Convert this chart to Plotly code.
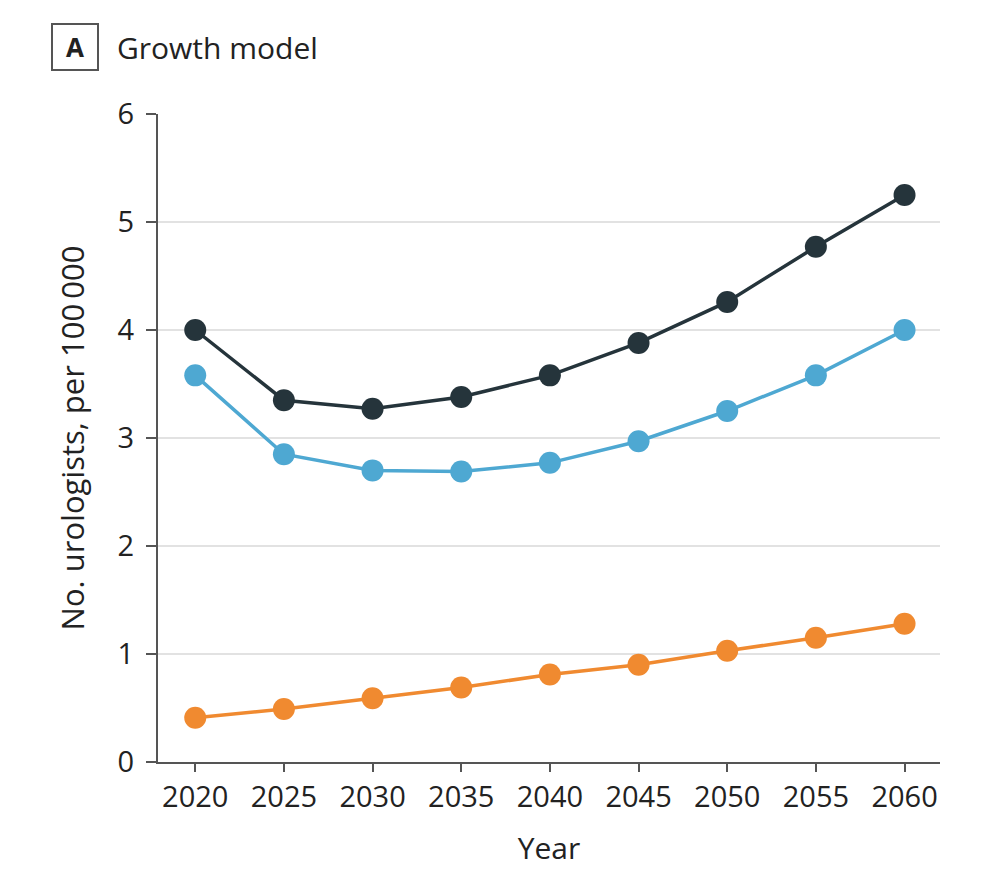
import plotly.graph_objects as go

years = [2020, 2025, 2030, 2035, 2040, 2045, 2050, 2055, 2060]
dark_series = [4.0, 3.35, 3.27, 3.38, 3.58, 3.88, 4.26, 4.77, 5.25]
blue_series = [3.58, 2.85, 2.70, 2.69, 2.77, 2.97, 3.25, 3.58, 4.0]
orange_series = [0.41, 0.49, 0.59, 0.69, 0.81, 0.90, 1.03, 1.15, 1.28]
y_ticks = [0, 1, 2, 3, 4, 5, 6]

FONT = "Open Sans"
TXT = "#222222"

fig = go.Figure()
for vals, col in [(dark_series, "#25343b"), (blue_series, "#4ea8d2"), (orange_series, "#f08a30")]:
    fig.add_trace(go.Scatter(
        x=years, y=vals, mode="lines+markers",
        line=dict(color=col, width=3.5),
        marker=dict(color=col, size=22),
        showlegend=False, hoverinfo="skip"))

fig.update_layout(
    width=982, height=884,
    margin=dict(l=158, r=42, t=114, b=122),
    paper_bgcolor="white", plot_bgcolor="white",
    font=dict(family=FONT, size=29, color=TXT),
    xaxis=dict(
        range=[2017.9, 2062], tickvals=years, ticktext=[str(y) for y in years],
        showgrid=False, zeroline=False,
        showline=True, linecolor="#555555", linewidth=2,
        ticks="outside", ticklen=8, tickwidth=2, tickcolor="#555555",
        ticklabelstandoff=0,
        tickfont=dict(family=FONT, size=29, color=TXT),
        title=dict(text="Year", font=dict(family=FONT, size=30, color=TXT), standoff=24),
    ),
    yaxis=dict(
        range=[0, 6], tickvals=y_ticks,
        showgrid=True, gridcolor="#e2e2e2", gridwidth=2,
        zeroline=False,
        showline=True, linecolor="#555555", linewidth=2,
        ticks="outside", ticklen=10, tickwidth=2, tickcolor="#555555",
        ticklabelstandoff=6,
        tickfont=dict(family=FONT, size=29, color=TXT),
        title=dict(text="No. urologists, per 100\u2009000", font=dict(family=FONT, size=31, color=TXT), standoff=24),
    ),
)

# panel label box "A" and title
fig.add_annotation(
    x=(75 - 158) / 782, y=(762 - 47) / 648, xref="paper", yref="paper",
    text="<b>A</b>", showarrow=False,
    font=dict(family=FONT, size=26, color=TXT),
    bordercolor="#555555", borderwidth=2, width=42, height=42,
    xanchor="center", yanchor="middle",
)
fig.add_annotation(
    x=(115 - 158) / 782, y=(762 - 47) / 648, xref="paper", yref="paper",
    text="Growth model", showarrow=False,
    font=dict(family=FONT, size=30, color=TXT),
    xanchor="left", yanchor="middle",
)

fig.write_html("out.html")
